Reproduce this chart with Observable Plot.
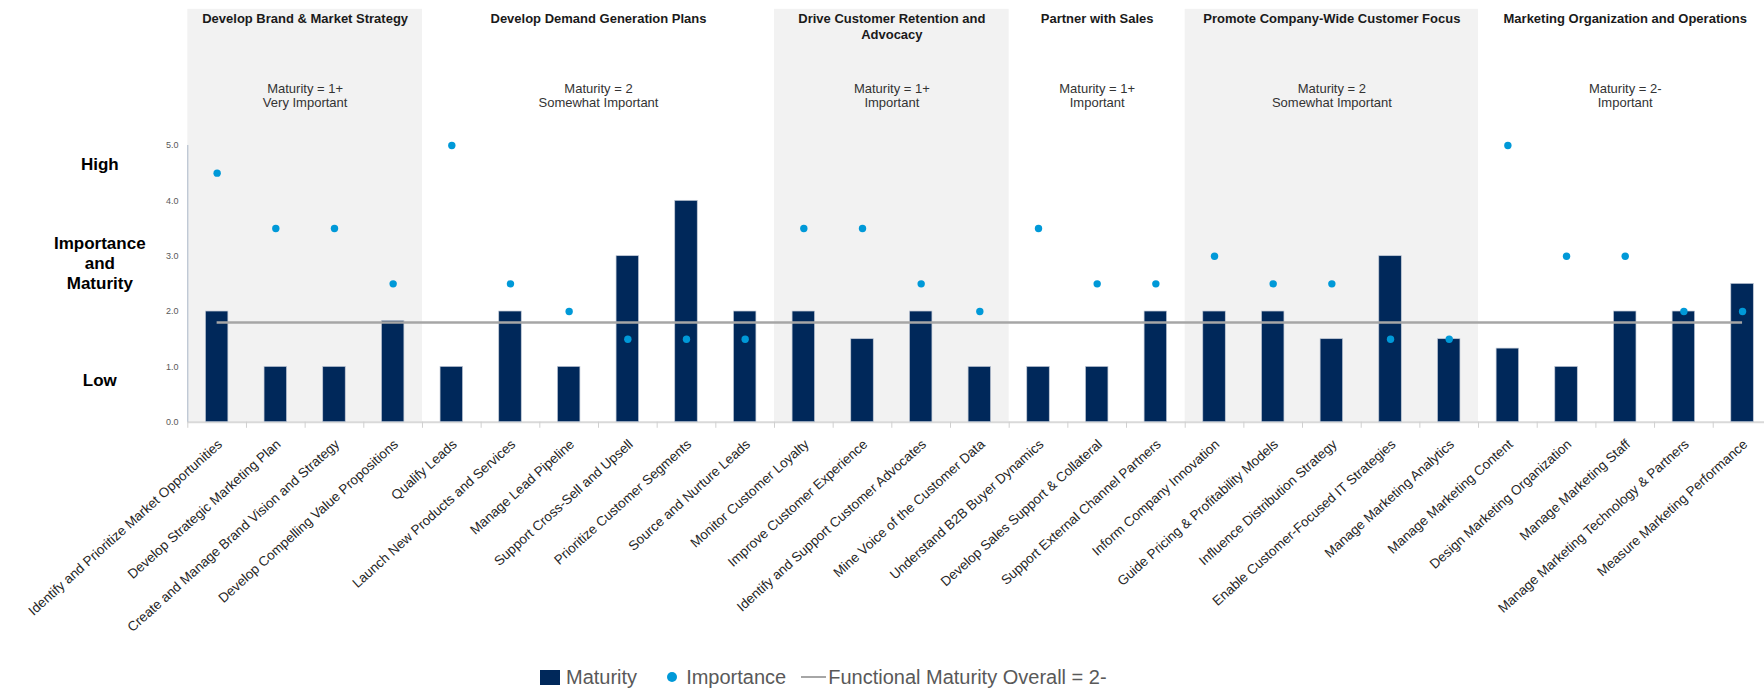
<!DOCTYPE html>
<html>
<head>
<meta charset="utf-8">
<script src="https://cdn.jsdelivr.net/npm/d3@7"></script>
<script src="https://cdn.jsdelivr.net/npm/@observablehq/plot@0.6"></script>
<style>
  html, body { margin: 0; padding: 0; background: #fff; }
  body { font-family: "Liberation Sans", Arial, sans-serif; width: 1764px; overflow: hidden; }
  #legend { display: flex; align-items: center; height: 30px; padding-left: 540px; font-size: 20px; color: #595959; white-space: nowrap; }
  #legend .sq { display: inline-block; width: 20px; height: 15px; background: #00285a; margin-right: 6px; }
  #legend .dt { display: inline-block; width: 10px; height: 10px; border-radius: 50%; background: #0099d8; margin-left: 30px; margin-right: 9px; }
  #legend .ln { display: inline-block; width: 25px; height: 2px; background: #a6a6a6; margin-left: 15px; margin-right: 2px; }
</style>
</head>
<body>
<div id="chart"></div>
<div id="legend"></div>
<script>
// ---------- data ----------
const categories = [
  "Identify and Prioritize Market Opportunities",
  "Develop Strategic Marketing Plan",
  "Create and Manage Brand Vision and Strategy",
  "Develop Compelling Value Propositions",
  "Qualify Leads",
  "Launch New Products and Services",
  "Manage Lead Pipeline",
  "Support Cross-Sell and Upsell",
  "Prioritize Customer Segments",
  "Source and Nurture Leads",
  "Monitor Customer Loyalty",
  "Improve Customer Experience",
  "Identify and Support Customer Advocates",
  "Mine Voice of the Customer Data",
  "Understand B2B Buyer Dynamics",
  "Develop Sales Support & Collateral",
  "Support External Channel Partners",
  "Inform Company Innovation",
  "Guide Pricing & Profitability Models",
  "Influence Distribution Strategy",
  "Enable Customer-Focused IT Strategies",
  "Manage Marketing Analytics",
  "Manage Marketing Content",
  "Design Marketing Organization",
  "Manage Marketing Staff",
  "Manage Marketing Technology & Partners",
  "Measure Marketing Performance"
];
const maturity = [2.0, 1.0, 1.0, 1.83, 1.0, 2.0, 1.0, 3.0, 4.0, 2.0, 2.0, 1.5, 2.0, 1.0, 1.0, 1.0, 2.0, 2.0, 2.0, 1.5, 3.0, 1.5, 1.33, 1.0, 2.0, 2.0, 2.5];
const importance = [4.5, 3.5, 3.5, 2.5, 5.0, 2.5, 2.0, 1.5, 1.5, 1.5, 3.5, 3.5, 2.5, 2.0, 3.5, 2.5, 2.5, 3.0, 2.5, 2.5, 1.5, 1.5, 5.0, 3.0, 3.0, 2.0, 2.0];
const overallMaturity = 1.8;

const groupTitles = [
  "Develop Brand & Market Strategy",
  "Develop Demand Generation Plans",
  "Drive Customer Retention and\nAdvocacy",
  "Partner with Sales",
  "Promote Company-Wide Customer Focus",
  "Marketing Organization and Operations"
];
const groupNotes = [
  "Maturity = 1+\nVery Important",
  "Maturity = 2\nSomewhat Important",
  "Maturity = 1+\nImportant",
  "Maturity = 1+\nImportant",
  "Maturity = 2\nSomewhat Important",
  "Maturity = 2-\nImportant"
];
const groupSizes = [4, 6, 4, 3, 5, 5];
const groupShaded = [true, false, true, false, true, false];

const yTicks = [0, 1, 2, 3, 4, 5];
const sideLabels = ["High", "Importance\nand\nMaturity", "Low"];
const legendLabels = ["Maturity", "Importance", "Functional Maturity Overall = 2-"];

// ---------- derived tables ----------
const rows = categories.map((c, i) => ({i, c, m: maturity[i], imp: importance[i]}));
let acc = 0;
const groups = groupTitles.map((t, g) => {
  const start = acc; acc += groupSizes[g];
  return {title: t, note: groupNotes[g], start, end: acc - 1, shaded: groupShaded[g]};
});
const boundaries = d3.range(categories.length + 1).map(i => i - 0.5);
const sideRows = [
  {label: sideLabels[0], y: 4.67},
  {label: sideLabels[1], y: 2.89},
  {label: sideLabels[2], y: 0.77}
];

const navy = "#00285a", cyan = "#0099d8", lineGray = "#a6a6a6";
const yTop = 7.62;

const chart = Plot.plot({
  width: 1764,
  height: 662,
  marginTop: 0,
  marginLeft: 187,
  marginRight: 0,
  marginBottom: 240,
  style: {fontFamily: "'Liberation Sans', Arial, sans-serif", background: "white", overflow: "visible"},
  x: {type: "linear", domain: [-0.5, categories.length - 0.5], range: [187.3, 187.3 + 58.67 * categories.length], axis: null},
  y: {domain: [0, yTop], range: [421.7, 0]},
  marks: [
    // shaded group panels
    Plot.rect(groups.filter(g => g.shaded), {x1: g => g.start - 0.5, x2: g => g.end + 0.5, y1: 0, y2: 7.46, fill: "#f2f2f2"}),
    // x axis line + boundary ticks
    Plot.ruleY([0], {x1: -0.5, x2: categories.length - 0.5, stroke: "#d9d9d9", strokeWidth: 2}),
    Plot.ruleX(boundaries, {x: d => d, y1: 0, y2: -0.11, stroke: "#d0d0d0"}),
    // y axis line
    Plot.ruleX([-0.5], {y1: 0, y2: 5, stroke: "#aab7c8"}),
    Plot.axisY({ticks: yTicks, tickFormat: d3.format(".1f"), tickSize: 0, tickPadding: 9, fontSize: 9, color: "#595959", label: null}),
    // maturity bars
    Plot.rect(rows, {x1: d => d.i - 0.192, x2: d => d.i + 0.192, y1: 0, y2: "m", fill: navy, stroke: "#c3cbd7", strokeWidth: 0.7}),
    // overall maturity line
    Plot.ruleY([overallMaturity], {x1: 0, x2: categories.length - 1, stroke: lineGray, strokeWidth: 2.5}),
    // importance dots
    Plot.dot(rows, {x: "i", y: "imp", r: 3.7, fill: cyan}),
    // category tick labels (rotated)
    Plot.text(rows, {x: "i", y: 0, text: "c", rotate: -42, textAnchor: "end", lineAnchor: "middle", dx: 3, dy: 20, fontSize: 13.5, fill: "#262626"}),
    // group titles & notes
    Plot.text(groups, {x: g => (g.start + g.end) / 2, y: 7.415, text: "title", lineAnchor: "top", lineHeight: 1.2, fontSize: 13, fontWeight: "bold", fill: "#1a1a1a"}),
    Plot.text(groups, {x: g => (g.start + g.end) / 2, y: 6.15, text: "note", lineAnchor: "top", lineHeight: 1.154, fontSize: 13, fill: "#333333"}),
    // side labels
    Plot.text(sideRows, {x: -2, y: "y", text: "label", lineAnchor: "middle", lineHeight: 1.18, fontSize: 17, fontWeight: "bold", fill: "#000"})
  ]
});
document.getElementById("chart").appendChild(chart);

const legend = document.getElementById("legend");
legend.innerHTML =
  `<span class="sq"></span><span>${legendLabels[0]}</span>` +
  `<span class="dt"></span><span>${legendLabels[1]}</span>` +
  `<span class="ln"></span><span>${legendLabels[2]}</span>`;
</script>
</body>
</html>
